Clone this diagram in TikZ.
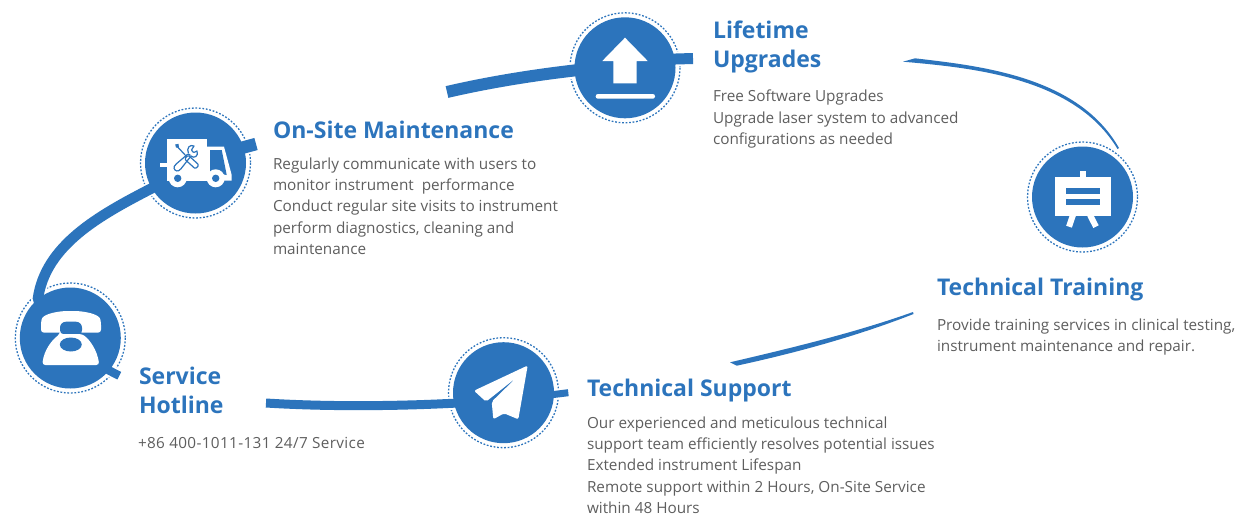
\documentclass[tikz,border=0pt]{standalone}
\usepackage{fontspec}
\setmainfont{Open Sans}
\usetikzlibrary{backgrounds}
\definecolor{brand}{HTML}{2C74BC}
\definecolor{bodytxt}{HTML}{5E5E5E}
\tikzset{
  disc/.style={circle,fill=brand,minimum size=101,inner sep=0,outer sep=0},
  ring/.style={draw=brand,line width=1.3,dash pattern=on 1.8 off 1.7},
  band/.style={draw=brand,line join=round},
  halo/.style={draw=white,line join=round},
  icon/.style={fill=white,draw=none},
  hole/.style={fill=brand,draw=none},
  tool/.style={draw=brand,line width=1.2,line join=round,fill=none},
  title/.style={anchor=north west,inner sep=0,outer sep=0,align=left,text=brand,font=\fontsize{23}{29}\selectfont\bfseries},
  body/.style={anchor=north west,inner sep=0,outer sep=0,align=left,text=bodytxt,font=\fontsize{15.3}{21.3}\selectfont},
}
\begin{document}
\begin{tikzpicture}[x=1pt,y=-1pt]
\useasboundingbox (0,0) rectangle (1241,514);
% discs
\node[disc] (phone) at (70.3,338) {};
\node[disc] (truck) at (195.5,163) {};
\node[disc] (upload) at (625,67.8) {};
\node[disc] (training) at (1082.5,197) {};
\node[disc] (plane) at (503.5,392.7) {};
% free ends
\coordinate (phoneEnd) at (119.3,375.7);
\coordinate (truckEnd) at (256,144);
\coordinate (uploadStart) at (447,92);
\coordinate (uploadEnd) at (693,58.5);
\coordinate (planeStart) at (266,403);
\coordinate (planeEnd) at (568.3,392.7);
\begin{pgfonlayer}{background}
  \foreach \n in {phone,truck,upload,training,plane}
    \draw[ring] (\n.center) circle[radius=55];
  % halos
  \draw[halo,line width=14] (phone.center) -- (phone.130) .. controls (45,245) and (100,215) .. (truck.210) -- (truck.center);
  \draw[halo,line width=12] (phone.center) -- (phone.-40) -- (phoneEnd);
  \draw[halo,line width=16] (truck.center) -- (truck.18) -- (truckEnd);
  \draw[halo,line width=16] (uploadStart) .. controls (490,82) and (535,75) .. (upload.183) -- (upload.center);
  \draw[halo,line width=15] (upload.center) -- (upload.10) -- (uploadEnd);
  \draw[halo,line width=13] (planeStart) .. controls (330,407) and (400,406) .. (plane.192) -- (plane.center);
  \draw[halo,line width=11] (plane.center) -- (plane.-2) -- (planeEnd);
  % bands
  \draw[band,line width=10.5] (phone.center) -- (phone.130) .. controls (45,245) and (100,215) .. (truck.210) -- (truck.center);
  \draw[band,line width=8.5] (phone.center) -- (phone.-40) -- (phoneEnd);
  \draw[band,line width=12.5] (truck.center) -- (truck.18) -- (truckEnd);
  \draw[band,line width=12] (uploadStart) .. controls (490,82) and (535,75) .. (upload.183) -- (upload.center);
  \draw[band,line width=11] (upload.center) -- (upload.10) -- (uploadEnd);
  \draw[band,line width=9] (planeStart) .. controls (330,407) and (400,406) .. (plane.192) -- (plane.center);
  \draw[band,line width=7] (plane.center) -- (plane.-2) -- (planeEnd);
\end{pgfonlayer}
% tapered thin arcs
\fill[brand] (903,61.7) .. controls (975,68) and (1075,78) .. (1117.5,149)
  -- (1119,148) .. controls (1078,76) and (980,66) .. (915,58.3) -- cycle;
\fill[brand] (730,362.3) .. controls (800,346) and (860,331) .. (913,312)
  -- (913.5,314) .. controls (860,335) and (800,352) .. (736.7,365.7) -- cycle;
% phone icon
\fill[icon,rounded corners=3] (41,332.7) -- (41,322) .. controls (43,314) and (58,311) .. (71,311)
  .. controls (84,311) and (99,314) .. (101,322) -- (101,332.7) -- cycle;
\fill[hole,rounded corners=6] (60,321.7) rectangle (82,336);
\fill[icon,rounded corners=3] (60,334) -- (82,334) .. controls (90,340) and (97,350) .. (99.3,365) -- (42.3,365)
  .. controls (44,350) and (52,340) .. (60,334) -- cycle;
\fill[hole] (70.8,344.5) ellipse[x radius=11,y radius=7];
% truck icon
\fill[icon] (166.7,139) rectangle (207.3,180.7);
\fill[icon] (160,163) rectangle (167,167);
\fill[icon] (207,146.7) -- (224,146.7) -- (231.7,175) -- (231.7,180.7) -- (207,180.7) -- cycle;
\fill[hole] (210,150) -- (221.7,150) -- (226.7,175) -- (210,172) -- cycle;
\fill[icon] (177.7,178.3) circle[radius=9];
\fill[icon] (215.7,178.3) circle[radius=9];
\fill[hole] (177.7,178.3) circle[radius=3.7];
\fill[hole] (215.7,178.3) circle[radius=3.7];
\draw[tool] (176.7,146) -- (187,157);
\fill[hole] (175.2,144.5) -- (178.5,143.8) -- (179,147.5) -- (176,147.5) -- cycle;
\draw[tool,rounded corners=1.5] (188,155) -- (199,165) -- (195.5,169) -- (184.5,159) -- cycle;
\draw[tool,rounded corners=1.5] (188.5,153.5) -- (191,156) -- (180,170) .. controls (176,172) and (173,169) .. (175,165) -- cycle;
\draw[tool] (188.5,153.5) .. controls (186,148) and (190,144) .. (194,146) -- (191.5,150) .. controls (193,153) and (195,153) .. (197,151) .. controls (199,156) and (194,159) .. (191,156);
% upload icon
\fill[icon] (625,37.7) -- (647.7,61) -- (636.7,61) -- (636.7,83.3) -- (613.3,83.3) -- (613.3,61) -- (602.3,61) -- cycle;
\fill[icon,rounded corners=2.2] (595.7,94) rectangle (655,98.7);
% training icon
\fill[icon] (1054.7,177.3) rectangle (1111.3,216);
\fill[icon] (1080.3,171) rectangle (1086.3,177.3);
\fill[hole] (1066.3,188.3) rectangle (1100.3,193.7);
\fill[hole] (1066.3,199.3) rectangle (1100.3,205);
\draw[white,line width=6] (1073,215) -- (1069,226.7);
\draw[white,line width=6] (1090,215) -- (1096,226.7);
% plane icon
\fill[icon,rounded corners=2] (527.7,365.5) -- (474,390.7) -- (486,401.7) -- (516.7,377.3) -- (491.7,401.7) -- (493.3,419.3) -- (504,413.3) -- (518.3,419.3) -- cycle;
% titles
\node[title] (t1) at (139,367) {Service\\Hotline};
\node[title] (t2) at (273,121) {On-Site Maintenance};
\node[title] (t3) at (713,21) {Lifetime\\Upgrades};
\node[title] (t4) at (937,278) {Technical Training};
\node[title] (t5) at (587,379) {Technical Support};
% body text
\node[body] (b1) at (138,437) {\addfontfeature{LetterSpace=2.3}+86 400-1011-131 24/7 Service};
\node[body] (b2) at (273,157.5) {Regularly communicate with users to\\monitor instrument\ \ performance\\Conduct regular site visits to instrument\\perform diagnostics, cleaning and\\maintenance};
\node[body] (b3) at (713,90) {Free Software Upgrades\\Upgrade laser system to advanced\\configurations as needed};
\node[body] (b4) at (937,318.5) {Provide training services in clinical testing,\\instrument maintenance and repair.};
\node[body] (b5) at (587,416.5) {Our experienced and meticulous technical\\support team efficiently resolves potential issues\\Extended instrument Lifespan\\Remote support within 2 Hours, On-Site Service\\within 48 Hours};
\end{tikzpicture}
\end{document}
